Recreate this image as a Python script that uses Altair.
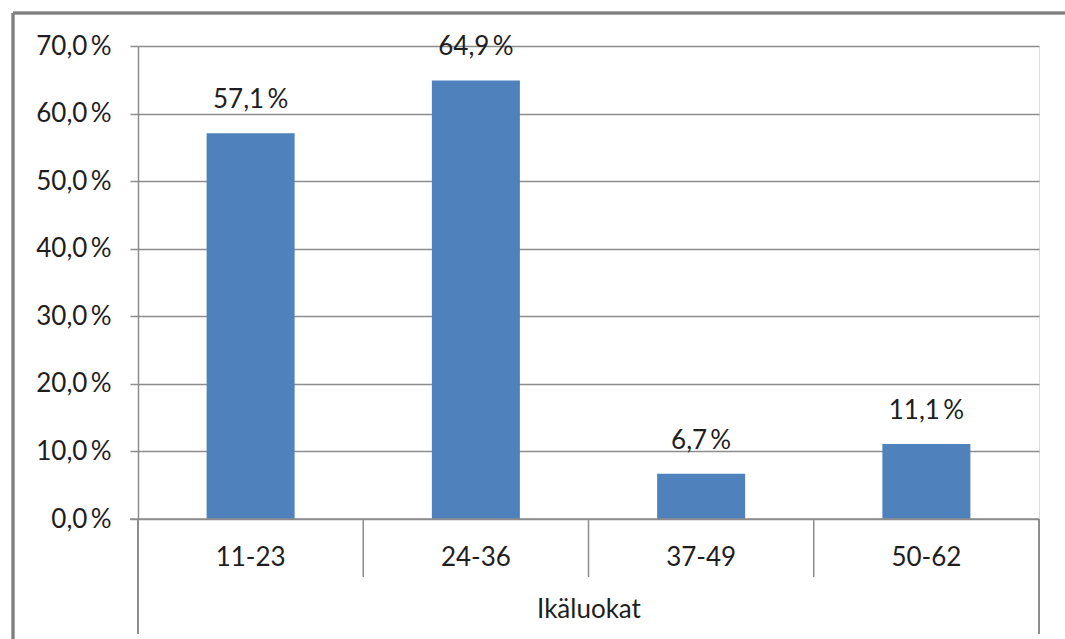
import altair as alt
import pandas as pd

categories = ["11-23", "24-36", "37-49", "50-62"]
values = [57.1, 64.9, 6.7, 11.1]
y_ticks = [0, 10, 20, 30, 40, 50, 60, 70]
x_title = "Ikäluokat"

labels = [f"{v:.1f}\u2009%".replace(".", ",") for v in values]
df = pd.DataFrame({"cat": categories, "val": values, "lab": labels})

FONT = "Lato"
FS = 26
TXT = "#1e1e1e"
GRID = "#8c8c8c"
BORDER = "#808080"
W, H = 901, 473

xscale = alt.Scale(domain=categories, paddingInner=0, paddingOuter=0)
yscale = alt.Scale(domain=[0, 70], nice=False)

base = alt.Chart(df)

bars = base.mark_bar(size=88, color="#4F81BD").encode(
    x=alt.X("cat:N", scale=xscale, sort=categories,
            axis=alt.Axis(title=x_title, ticks=False, domain=False, labelAngle=0,
                          labelFont=FONT, labelFontSize=FS, labelColor=TXT,
                          labelPadding=38, labelBaseline="middle",
                          titleFont=FONT, titleFontSize=FS, titleColor=TXT,
                          titleFontWeight="normal", titlePadding=26)),
    y=alt.Y("val:Q", scale=yscale,
            axis=alt.Axis(title=None, values=y_ticks, grid=True, gridColor=GRID,
                          gridWidth=1.5, domainColor=GRID, domainWidth=1.5,
                          tickColor=GRID, tickWidth=1.5, tickSize=8,
                          labelFont=FONT, labelFontSize=FS, labelColor=TXT,
                          labelPadding=19,
                          labelExpr="replace(format(datum.value, '.1f'), '.', ',') + '\u2009%'")),
)

text = base.mark_text(font=FONT, fontSize=FS, color=TXT, baseline="alphabetic", dy=-25).encode(
    x=alt.X("cat:N", scale=xscale, sort=categories),
    y=alt.Y("val:Q", scale=yscale),
    text="lab:N",
)

# bottom axis line at 0 %
zero_line = alt.Chart(pd.DataFrame({"v": [0]})).mark_rule(color=GRID, strokeWidth=1.5).encode(
    y=alt.Y("v:Q", scale=yscale), x=alt.value(-8), x2=alt.value(W)
)

# interior category dividers
div_df = pd.DataFrame({"cat": categories[1:]})
dividers = alt.Chart(div_df).mark_rule(color=GRID, strokeWidth=1.5).encode(
    x=alt.X("cat:N", scale=xscale, sort=categories, bandPosition=0),
    y=alt.value(H), y2=alt.value(H + 58),
)

left_ext = alt.Chart(df).mark_rule(color=GRID, strokeWidth=1.5).encode(
    x=alt.value(0), y=alt.value(H), y2=alt.value(H + 115)
)
right_ext = alt.Chart(df).mark_rule(color=GRID, strokeWidth=1.5).encode(
    x=alt.value(W), y=alt.value(H), y2=alt.value(H + 115)
)

# chart border (outer frame)
border_left = alt.Chart(df).mark_rule(color=BORDER, strokeWidth=2.5).encode(
    x=alt.value(-125), y=alt.value(-33), y2=alt.value(H + 140)
)
border_top = alt.Chart(df).mark_rule(color=BORDER, strokeWidth=2.5).encode(
    y=alt.value(-33), x=alt.value(-125), x2=alt.value(W + 40)
)

chart = alt.layer(
    bars, text, zero_line, dividers, left_ext, right_ext, border_left, border_top
).properties(
    width=W, height=H,
    autosize=alt.AutoSizeParams(type="none"),
    padding={"left": 138, "top": 46, "right": 26, "bottom": 120},
).configure_view(stroke=None).configure(background="white")

chart.save("out.html", embed_options={"renderer": "svg", "actions": False})
